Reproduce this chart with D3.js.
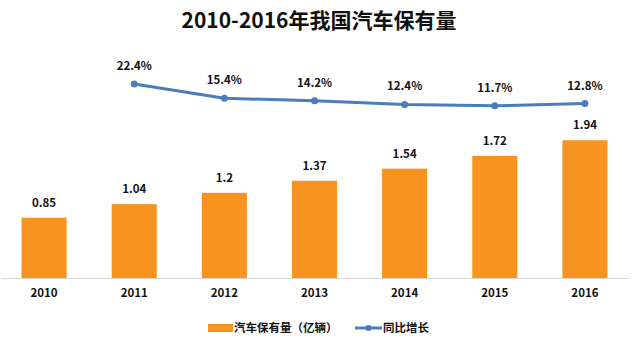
<!DOCTYPE html>
<html><head><meta charset="utf-8">
<script src="https://cdn.jsdelivr.net/npm/d3@7"></script>
<style>
html,body{margin:0;padding:0;background:#fff;}
svg{display:block;font-family:"Noto Sans CJK SC","Noto Sans",sans-serif;}
</style></head>
<body>
<svg id="chart" width="640" height="346"></svg>
<script>
const title = "2010-2016年我国汽车保有量";
const years = ["2010","2011","2012","2013","2014","2015","2016"];
const stock = [0.85, 1.04, 1.2, 1.37, 1.54, 1.72, 1.94];
const stockLabels = ["0.85","1.04","1.2","1.37","1.54","1.72","1.94"];
const growthYears = ["2011","2012","2013","2014","2015","2016"];
const growth = [22.4, 15.4, 14.2, 12.4, 11.7, 12.8];
const legendNames = ["汽车保有量（亿辆）", "同比增长"];

const svg = d3.select("#chart");
const barColor = "#F7931E", lineColor = "#4A7EBB";

const x = d3.scaleBand().domain(years).range([-1, 630]).paddingInner(0.5).paddingOuter(0.25);
const y = d3.scaleLinear().domain([0, 2.5]).range([278, 100.5]);
const y2 = d3.scaleLinear().domain([0, 25]).range([129.7, 78.7]);

svg.append("text").attr("x", 319).attr("y", 28).attr("text-anchor", "middle")
  .attr("font-size", 21).attr("font-weight", "bold").attr("fill", "#111").text(title);

// bars
svg.selectAll("rect.bar").data(years).join("rect").attr("class","bar")
  .attr("x", d => x(d)).attr("width", x.bandwidth())
  .attr("y", (d,i) => y(stock[i])).attr("height", (d,i) => y(0) - y(stock[i]))
  .attr("fill", barColor);

// axis
const ax = svg.append("g").attr("transform", `translate(0,${y(0)})`)
  .call(d3.axisBottom(x).tickSize(0).tickPadding(11));
ax.select(".domain").attr("stroke", "#d9d9d9").attr("d", "M1,0.5H630");
ax.selectAll("text").attr("font-size", 11.5).attr("font-weight", "bold").attr("fill", "#111")
  .attr("font-family", "'Noto Sans CJK SC','Noto Sans',sans-serif");

// bar labels
svg.selectAll("text.bl").data(years).join("text").attr("class","bl")
  .attr("x", d => x(d) + x.bandwidth()/2).attr("y", (d,i) => y(stock[i]) - 11)
  .attr("text-anchor","middle").attr("font-size", 11.5).attr("font-weight","bold").attr("fill","#111")
  .text((d,i) => stockLabels[i]);

// line
const line = d3.line().x(d => x(d[0]) + x.bandwidth()/2).y(d => y2(d[1]));
const pts = growthYears.map((d,i) => [d, growth[i]]);
svg.append("path").datum(pts).attr("d", line).attr("fill","none")
  .attr("stroke", lineColor).attr("stroke-width", 3).attr("stroke-linejoin","round");
svg.selectAll("circle.pt").data(pts).join("circle").attr("class","pt")
  .attr("cx", d => x(d[0]) + x.bandwidth()/2).attr("cy", d => y2(d[1])).attr("r", 3.5)
  .attr("fill", lineColor);
svg.selectAll("text.pl").data(pts).join("text").attr("class","pl")
  .attr("x", d => x(d[0]) + x.bandwidth()/2).attr("y", d => y2(d[1]) - 14)
  .attr("text-anchor","middle").attr("font-size", 11.5).attr("font-weight","bold").attr("fill","#111")
  .text(d => d[1].toFixed(1) + "%");

// legend
const lg = svg.append("g");
lg.append("rect").attr("x", 208).attr("y", 324).attr("width", 25).attr("height", 8).attr("fill", barColor);
lg.append("text").attr("x", 234).attr("y", 332).attr("font-size", 11.5).attr("font-weight","bold")
  .attr("fill","#111").text(legendNames[0]);
lg.append("line").attr("x1", 355).attr("x2", 382).attr("y1", 328).attr("y2", 328)
  .attr("stroke", lineColor).attr("stroke-width", 3);
lg.append("circle").attr("cx", 368.5).attr("cy", 328).attr("r", 3).attr("fill", lineColor);
lg.append("text").attr("x", 383).attr("y", 332).attr("font-size", 11.5).attr("font-weight","bold")
  .attr("fill","#111").text(legendNames[1]);
</script>
</body></html>
